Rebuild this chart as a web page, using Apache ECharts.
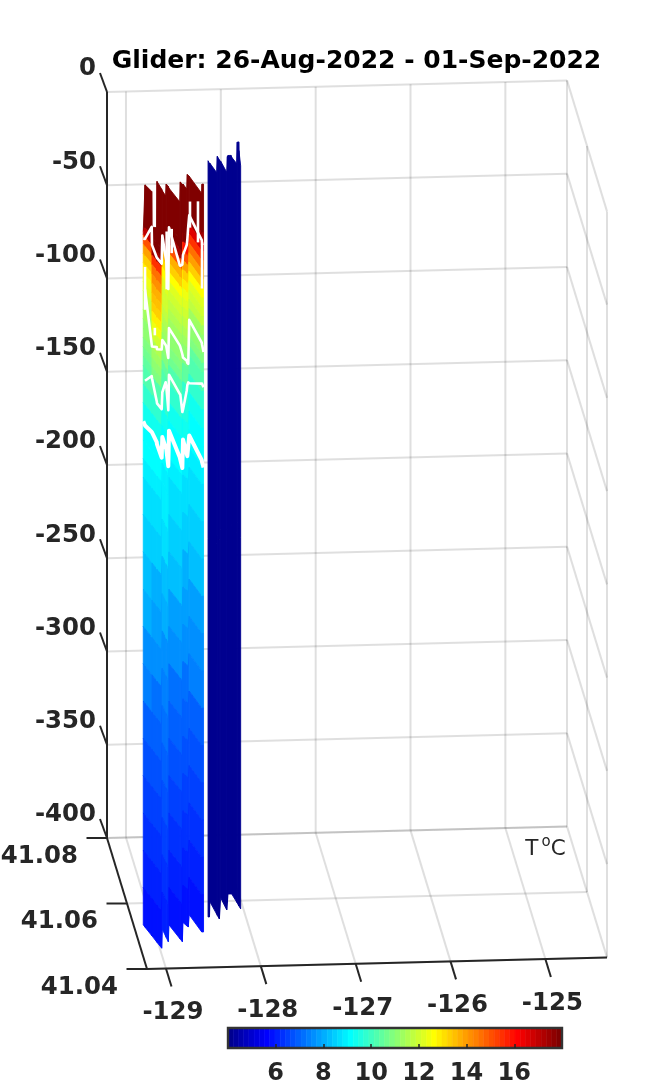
<!DOCTYPE html>
<html><head><meta charset="utf-8">
<style>html,body{margin:0;padding:0;background:#fff}#c{width:671px;height:1088px}</style>
<script src="https://cdn.jsdelivr.net/npm/echarts@6/dist/echarts.min.js"></script>
</head><body><div id="c"></div>
<script>
var titleText = 'Glider: 26-Aug-2022 - 01-Sep-2022';
var lonTicks = [-129,-128,-127,-126,-125];
var latTicks = [41.08,41.06,41.04];
var depthTicks = [0,-50,-100,-150,-200,-250,-300,-350,-400];
var tempTicks = [6,8,10,12,14,16];
var depthLevels = [12,-25,-30,-35,-40,-45,-50,-55,-60,-65,-70,-75,-80,-85,-90,-95,-100,-110,-120,-130,-140,-150,-160,-180,-200,-220,-240,-260,-280,-300,-320,-340,-360,-380,-400];

// western section of the track
var westLon = [-129.098,-129.087,-129.044,-129.042,-129.012,-129.010,-128.980,-128.913,-128.900,-128.898,-128.890,-128.829,-128.760,-128.756,-128.743,-128.675,-128.646,-128.641,-128.634,-128.585,-128.509,-128.506,-128.490];
var westLat = [41.0534,41.0527,41.0501,41.0500,41.0481,41.0480,41.0462,41.0519,41.0498,41.0494,41.0481,41.0532,41.0490,41.0488,41.0480,41.0538,41.0528,41.0527,41.0524,41.0561,41.0508,41.0508,41.0508];
var westTop = [-28,-2,-1,-20,-17,8,7,-4,-3,4,5,-5,-5,6,6,-4,-5,3,3,-4,-4,1,1];
var westGroup = [0,0,0,1,1,1,1,2,2,2,2,3,3,3,3,4,4,4,4,5,5,5];
var tempA1 = [18,17,15,14,13.2,12.8,12.4,12.1,11.8,11.6,11.4,11.2,11.1,10.9,10.7,10.5,10.2,9.8,9.4,9.2,9.1,9.0,8.8,8.5,8.25,7.95,7.6,7.3,7.05,6.8,6.55,6.35,6.1,5.9];
var tempA2 = [18,18,17.5,15.5,14.6,14.1,13.8,13.5,13.2,12.9,12.4,12,11.6,11.3,11,10.8,10.3,9.8,9.4,9.2,9.05,8.95,8.65,8.4,8.1,7.8,7.5,7.2,6.95,6.7,6.45,6.2,6.0,5.8];
var tempB = [18,18,16.5,13.8,13,12.7,12.3,12,11.9,11.8,11.6,11.4,11.2,11,10.8,10.5,10.2,9.7,9.4,9.2,9.1,9.0,8.85,8.6,8.35,8.0,7.7,7.4,7.15,6.9,6.65,6.45,6.2,6.0];
var tempC = [18,18,17.5,15,13.7,13.2,12.6,12.2,12,11.8,11.6,11.4,11.2,11,10.8,10.6,10.2,9.8,9.4,9.2,9.05,8.95,8.7,8.45,8.2,7.85,7.55,7.25,7.0,6.75,6.5,6.25,6.05,5.85];
var tempD = [18,18,18,16,15,14,13.2,12.8,12.4,12.2,12,11.7,11.5,11.3,11.1,10.8,10.4,9.9,9.5,9.25,9.1,9,8.75,8.45,8.15,7.85,7.5,7.2,6.95,6.7,6.45,6.25,6.0,5.8];
var tempE = [18,17.5,16.5,15.5,14.5,14,13.3,12.7,12.1,11.9,11.7,11.4,11.2,11,10.8,10.5,10.2,9.7,9.35,9.15,9.05,8.95,8.75,8.5,8.2,7.9,7.6,7.3,7.05,6.8,6.55,6.3,6.1,5.9];

// contour depths at each western track point
var contour1 = [-32,-31,-20,-29.5,-33,-33,-33,-28,-36,-37,-50,-26,-39,-39,-37,-42,-35,-32,-24,-25,-29,-31,-31];
var contour2 = [null,-58,-83,-84,-81,-82,-79,-84,-83,-83,-87,-80,-82,-82.5,-85,-97,-97,-98,-98,-81,-84,-85,-89];
var contour3 = [null,-107,-100,-101,-110,-111,-111,-112,-103,-104,-115,-105,-108,-108,-116,-125,-113,-110,-108,-115,-106,-106,-108];
var contour4 = [-130,-131,-130,-130,-132,-133,-137,-136,-138,-138,-145,-135,-142,-143,-146,-141,-147,-148,-142,-143,-147,-148,-151];
// short contour pieces: [position along track, depth from, depth to]
var contourBits = [[1,-46,-69],[3.6,-72,-76],[9.2,-21,-52],[11.25,-25,-38],[19.06,-17,-31],[19.7,-11,-33],[21,-31,-55]];

// eastern section of the track
var eastLon = [-128.395,-128.380,-128.327,-128.296,-128.293,-128.283,-128.202,-128.177,-128.147,-128.113,-128.081,-128.074,-128.048,-128.045,-128.038,-128.037,-128.028];
var eastLat = [41.0553,41.0553,41.0599,41.0561,41.0557,41.0546,41.0610,41.0573,41.0595,41.0621,41.0621,41.0621,41.0596,41.0593,41.0585,41.0584,41.0575];
var eastTop = [5.5,4,-4,-2.4,7,7,-5,-4.5,0,-4,-4,-5,-4,8,9.5,5,-1.6];
var eastTemp = 3.6;

var tempMin = 4, tempMax = 18;

// ---- view geometry of the 3-D box (orthographic) ----
var lonMin = -129.2, latBack = 41.08;
function project(lon, lat, depth){
  var u = lon - lonMin, f = (latBack - lat)/0.04;
  return [107 + 94.85*u + 40*f, 92 - 2.39*u + 131*f - depth*1.865];
}
var lonMax = lonMin + 460/94.85, latFront = 41.04;
function jet(T){
  var i = Math.max(0, Math.min(63, Math.floor((T-tempMin)/(tempMax-tempMin)*64)));
  var x = (i+1)/64;
  function c(v){return Math.round(255*Math.max(0,Math.min(1,v)));}
  return 'rgb('+c(Math.min(4*x-1.5,-4*x+4.5))+','+c(Math.min(4*x-.5,-4*x+3.5))+','+c(Math.min(4*x+.5,-4*x+2.5))+')';
}
var GRID='rgba(38,38,38,0.15)', DARK='#262626';
var gridSegs=[], axisSegs=[];
function seg(list,a,b){list.push([a,b]);}
lonTicks.forEach(function(l){
  seg(gridSegs,project(l,latBack,0),project(l,latBack,-400));
  seg(gridSegs,project(l,latBack,-400),project(l,latFront,-400));
});
depthTicks.forEach(function(d){
  seg(gridSegs,project(lonMin,latBack,d),project(lonMax,latBack,d));
  seg(gridSegs,project(lonMax,latBack,d),project(lonMax,latFront,d));
});
latTicks.forEach(function(t){
  seg(gridSegs,project(lonMin,t,-400),project(lonMax,t,-400));
  seg(gridSegs,project(lonMax,t,0),project(lonMax,t,-400));
});
seg(axisSegs,project(lonMin,latBack,0),project(lonMin,latBack,-400));
seg(axisSegs,project(lonMin,latBack,-400),project(lonMin,latFront,-400));
seg(axisSegs,project(lonMin,latFront,-400),project(lonMax,latFront,-400));
depthTicks.forEach(function(d){var p=project(lonMin,latBack,d);seg(axisSegs,p,[p[0]-7,p[1]-19]);});
latTicks.forEach(function(t){var p=project(lonMin,t,-400);seg(axisSegs,p,[p[0]-20.5,p[1]]);});
lonTicks.forEach(function(l){var p=project(l,latFront,-400);seg(axisSegs,p,[p[0]+5.5,p[1]+18]);});

var labels=[];
depthTicks.forEach(function(d){var p=project(lonMin,latBack,d);labels.push({t:String(d),x:96,y:p[1]-23,a:'right'});});
latTicks.forEach(function(t){var p=project(lonMin,t,-400);labels.push({t:t.toFixed(2),x:p[0]-29,y:p[1]+18.5,a:'right'});});
lonTicks.forEach(function(l){var p=project(l,latFront,-400);labels.push({t:String(l),x:p[0]+7,y:p[1]+44.5,a:'center'});});

// surface cells
var westTemps=[tempA1,tempA2,tempB,tempC,tempD,tempE];
var cells=[];
for(var i=0;i<westLon.length-1;i++){
  for(var k=0;k<depthLevels.length-1;k++){
    cells.push([0,i,k,westTemps[westGroup[i]][k]]);
  }
}
for(var j=0;j<eastLon.length-1;j++){ cells.push([1,j,-1,eastTemp]); }

var contourPaths=[];
[contour1,contour2,contour3,contour4].forEach(function(c,n){
  var cur=[];
  c.forEach(function(d,i){ if(d===null){return;} cur.push([westLon[i],westLat[i],d]); });
  contourPaths.push({pts:cur,w:n===3?4:2.6});
});
contourBits.forEach(function(b){
  var a=Math.floor(b[0]),t=b[0]-a,e=Math.min(a+1,westLon.length-1);
  var lo=westLon[a]+(westLon[e]-westLon[a])*t,la=westLat[a]+(westLat[e]-westLat[a])*t;
  contourPaths.push({pts:[[lo,la,b[1]],[lo,la,b[2]]],w:2.6});
});

var cbCells=[];
for(var q=0;q<64;q++){cbCells.push([tempMin+q*(tempMax-tempMin)/64,tempMin+(q+1)*(tempMax-tempMin)/64]);}

function lineSeries(list,color,w){
  return {type:'custom',xAxisIndex:0,yAxisIndex:0,silent:true,clip:false,
    data:list.map(function(_,i){return [i];}),
    renderItem:function(p,api){
      var s=list[api.value(0)],a=api.coord(s[0]),b=api.coord(s[1]);
      return {type:'line',shape:{x1:a[0],y1:a[1],x2:b[0],y2:b[1]},style:{stroke:color,lineWidth:w,lineCap:'butt'}};
    }};
}
var option={
  animation:false,
  backgroundColor:'#fff',
  title:{text:titleText,left:356,top:44,textAlign:'center',textStyle:{fontFamily:'DejaVu Sans',fontWeight:'bold',fontSize:25,color:'#000'}},
  grid:[{left:0,top:0,width:671,height:1088},{left:228,top:1028,width:334,height:20}],
  xAxis:[{type:'value',min:0,max:671,show:false,gridIndex:0},
    {type:'value',min:tempMin,max:tempMax,gridIndex:1,interval:2,z:20,
     splitLine:{show:false},axisLine:{show:false},
     axisTick:{show:true,inside:true,length:4,lineStyle:{color:DARK,width:1.5},customValues:tempTicks},
     axisLabel:{margin:14,color:DARK,fontFamily:'DejaVu Sans',fontWeight:'bold',fontSize:24,customValues:tempTicks}}],
  yAxis:[{type:'value',min:0,max:1088,inverse:true,show:false,gridIndex:0},
    {type:'value',min:0,max:1,show:false,gridIndex:1}],
  series:[
    lineSeries(gridSegs,GRID,2),
    {type:'custom',xAxisIndex:0,yAxisIndex:0,silent:true,clip:false,data:cells,
     renderItem:function(p,api){
       var sec=api.value(0),i=api.value(1),k=api.value(2),T=api.value(3);
       var lon=sec?eastLon:westLon,lat=sec?eastLat:westLat,top=sec?eastTop:westTop;
       var dA=k<0?12:depthLevels[k],dB=k<0?-400:depthLevels[k+1];
       var a1=Math.min(dA,top[i]),a2=Math.min(dB,top[i]),b1=Math.min(dA,top[i+1]),b2=Math.min(dB,top[i+1]);
       if(a1===a2&&b1===b2){return null;}
       var pts=[api.coord(project(lon[i],lat[i],a1)),api.coord(project(lon[i+1],lat[i+1],b1)),api.coord(project(lon[i+1],lat[i+1],b2)),api.coord(project(lon[i],lat[i],a2))];
       var col=jet(T);
       return {type:'polygon',shape:{points:pts},style:{fill:col,stroke:col,lineWidth:0.9}};
     }},
    {type:'custom',xAxisIndex:0,yAxisIndex:0,silent:true,clip:false,
     data:contourPaths.map(function(_,i){return [i];}),
     renderItem:function(p,api){
       var c=contourPaths[api.value(0)];
       return {type:'polyline',shape:{points:c.pts.map(function(q){return api.coord(project(q[0],q[1],q[2]));})},
         style:{stroke:'#fff',fill:null,lineWidth:c.w,lineJoin:'round'}};
     }},
    lineSeries(axisSegs,DARK,2),
    {type:'custom',xAxisIndex:0,yAxisIndex:0,silent:true,clip:false,
     data:labels.map(function(_,i){return [i];}),
     renderItem:function(p,api){
       var l=labels[api.value(0)],c=api.coord([l.x,l.y]);
       return {type:'text',x:c[0],y:c[1],style:{text:l.t,textAlign:l.a,textVerticalAlign:'middle',font:'bold 24.4px "DejaVu Sans"',fill:DARK}};
     }},
    {type:'custom',xAxisIndex:0,yAxisIndex:0,silent:true,clip:false,data:[[545.5,849]],
     renderItem:function(p,api){
       var c=api.coord([api.value(0),api.value(1)]);
       return {type:'text',x:c[0],y:c[1],style:{text:'{a|T}{b|o}{a|C}',textAlign:'center',textVerticalAlign:'middle',
         rich:{a:{fontFamily:'DejaVu Sans',fontSize:21.5,fill:DARK,lineHeight:28},b:{fontFamily:'DejaVu Sans',fontSize:15,fill:DARK,verticalAlign:'top',lineHeight:12,padding:[0,0,0,3]}}}};
     }},
    {type:'custom',xAxisIndex:1,yAxisIndex:1,silent:true,data:cbCells,
     renderItem:function(p,api){
       var a=api.coord([api.value(0),1]),b=api.coord([api.value(1),0]),T=(api.value(0)+api.value(1))/2,col=jet(T);
       return {type:'rect',shape:{x:a[0],y:a[1],width:b[0]-a[0],height:b[1]-a[1]},style:{fill:col,stroke:col,lineWidth:0.6}};
     }},
    {type:'custom',xAxisIndex:1,yAxisIndex:1,silent:true,clip:false,z:15,data:[[tempMin,tempMax]],
     renderItem:function(p,api){
       var a=api.coord([api.value(0),1]),b=api.coord([api.value(1),0]);
       return {type:'rect',shape:{x:a[0],y:a[1],width:b[0]-a[0],height:b[1]-a[1]},style:{fill:null,stroke:'#333',lineWidth:2.4}};
     }}
  ]
};
option.title.left=351.5;
var chart=echarts.init(document.getElementById('c'),null,{renderer:'canvas',width:671,height:1088});
chart.setOption(option);
</script></body></html>
